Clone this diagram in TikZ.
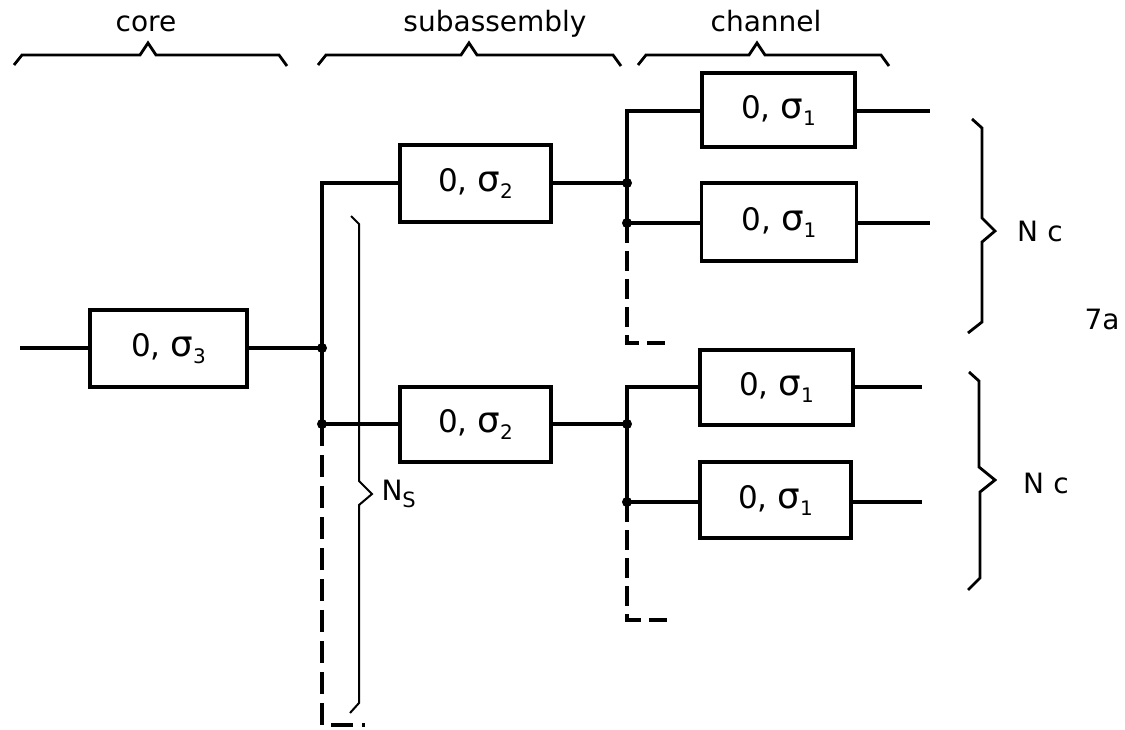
\documentclass[tikz,border=0pt]{standalone}
\usepackage{fontspec}
\setmainfont{DejaVu Sans}
\newcommand\lowsub[1]{\raisebox{-7pt}{\fontsize{20}{20}\selectfont #1}}
\newcommand\boxtext[1]{0,\ \scalebox{1.15}{σ}\lowsub{#1}}
\tikzset{
  wire/.style={line width=3.2pt},
  blk/.style={draw, line width=3.2pt, rectangle, inner sep=0pt, font=\fontsize{31}{31}\selectfont},
  brc/.style={line width=2.8pt, line join=miter},
  thinbrc/.style={line width=2pt},
  dashwire/.style={line width=3.2pt, dash pattern=on 22pt off 9pt},
  dot/.style={circle, fill=black, inner sep=0pt, minimum size=10pt},
  lbl/.style={font=\fontsize{28}{28}\selectfont, anchor=base},
  nlbl/.style={font=\fontsize{28}{28}\selectfont},
}
\begin{document}
\begin{tikzpicture}[x=1pt, y=-1pt]
\useasboundingbox (0,0) rectangle (1125,730);

% top labels and braces
\node[lbl] (lcore) at (146,32) {core};
\node[lbl] (lsub) at (495,32) {subassembly};
\node[lbl] (lchan) at (766,32) {channel};
\draw[brc] (14,65) -- (22,55) -- (140,55) -- (148,43) -- (156,55) -- (279,55) -- (287,66);
\draw[brc] (318,65) -- (326,55) -- (461,55) -- (469,43) -- (477,55) -- (613,55) -- (621,66);
\draw[brc] (638,65) -- (646,55) -- (749,55) -- (757,43) -- (765,55) -- (881,55) -- (889,66);

% boxes
\node[blk, minimum width=157pt, minimum height=77pt] (b3) at (168.5,348.5) {\boxtext{3}};
\node[blk, minimum width=151pt, minimum height=77pt] (b2u) at (475.5,183.5) {\boxtext{2}};
\node[blk, minimum width=151pt, minimum height=75pt] (b2l) at (475.5,424.5) {\boxtext{2}};
\node[blk, minimum width=153pt, minimum height=74pt] (b1a) at (778.5,110) {\boxtext{1}};
\node[blk, minimum width=155pt, minimum height=78pt] (b1b) at (779,222) {\boxtext{1}};
\node[blk, minimum width=153pt, minimum height=75pt] (b1c) at (776.5,387.5) {\boxtext{1}};
\node[blk, minimum width=151pt, minimum height=76pt] (b1d) at (775.5,500) {\boxtext{1}};

% junctions
\coordinate (in) at (20,348);
\node[dot] (j0) at (322,348) {};
\node[dot] (j1) at (322,424) {};
\coordinate (c1) at (322,183);
\node[dot] (ju) at (627,183) {};
\node[dot] (ju2) at (627,223) {};
\coordinate (cu) at (627,111);
\node[dot] (jl) at (627,424) {};
\node[dot] (jl2) at (627,502) {};
\coordinate (cl) at (627,387);
\coordinate (oa) at (930,111);
\coordinate (ob) at (930,223);
\coordinate (oc) at (922,387);
\coordinate (od) at (922,502);
\coordinate (ds1) at (322,725);
\coordinate (ds1e) at (365,725);
\coordinate (dsu) at (627,343);
\coordinate (dsue) at (665,343);
\coordinate (dsl) at (627,620);
\coordinate (dsle) at (667,620);

% wires
\draw[wire] (in) -- (in -| b3.west);
\draw[wire] (b3.east |- j0) -- (j0.center);
\draw[wire, line join=miter] (c1 -| b2u.west) -- (c1) -- (j1.center) -- (j1 -| b2l.west);
\draw[wire] (b2u.east |- ju) -- (ju.center);
\draw[wire] (b2l.east |- jl) -- (jl.center);
\draw[wire, line join=miter] (cu -| b1a.west) -- (cu) -- (ju2.center) -- (ju2 -| b1b.west);
\draw[wire, line join=miter] (cl -| b1c.west) -- (cl) -- (jl2.center) -- (jl2 -| b1d.west);
\draw[wire] (b1a.east |- oa) -- (oa);
\draw[wire] (b1b.east |- ob) -- (ob);
\draw[wire] (b1c.east |- oc) -- (oc);
\draw[wire] (b1d.east |- od) -- (od);

% dashed continuations
\draw[dashwire] (j1.center) -- (ds1) -- (ds1e);
\draw[dashwire, dash pattern=on 20pt off 8pt] (ju2.center) -- (dsu) -- (dsue);
\draw[dashwire, dash pattern=on 20pt off 8pt] (jl2.center) -- (dsl) -- (dsle);

% Ns brace
\draw[thinbrc] (351,216) -- (359,224) -- (359,481) -- (372,494) -- (359,505) -- (359,703) -- (350,713);
\node[nlbl, anchor=west] (ns) at (378,494) {N\raisebox{-7pt}{\fontsize{21}{21}\selectfont S}};

% Nc braces
\draw[brc] (972,119) -- (982,128) -- (982,218) -- (995,231) -- (982,242) -- (982,322) -- (968,333);
\draw[brc] (969,372) -- (979,381) -- (979,467) -- (995,480) -- (980,492) -- (980,578) -- (968,590);
\node[nlbl] (nc1) at (1040,231) {N\,\,c};
\node[nlbl] (nc2) at (1046,483) {N\,\,c};
\node[nlbl] (fig) at (1102,319) {7a};
\end{tikzpicture}
\end{document}
